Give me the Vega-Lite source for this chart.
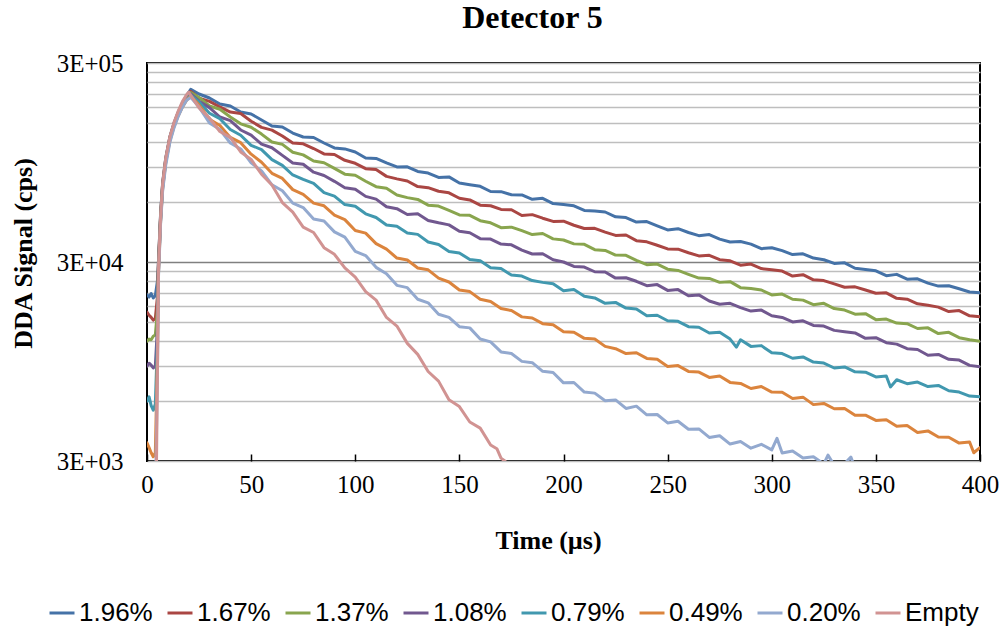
{
"$schema": "https://vega.github.io/schema/vega-lite/v6.json",
"width": 833, "height": 398,
"autosize": {"type": "none"},
"padding": {"left": 147, "top": 63, "right": 22, "bottom": 169},
"background": "white",
"title": {"text": "Detector 5", "font": "Liberation Serif", "fontSize": 32, "fontWeight": "bold", "color": "black", "anchor": "middle", "frame": "group", "dx": -31, "offset": 16},
"config": {"view": {"stroke": "black", "strokeWidth": 2}, "axis": {"domain": false}},
"data": {"values": [
{"s":"1.96%","t":0,"v":20500},{"s":"1.96%","t":1,"v":20000},{"s":"1.96%","t":2,"v":20800},{"s":"1.96%","t":3,"v":19800},{"s":"1.96%","t":4,"v":20300},{"s":"1.96%","t":5,"v":24000},{"s":"1.96%","t":5.5,"v":30000},{"s":"1.96%","t":6.5,"v":52000},{"s":"1.96%","t":7.5,"v":75000},{"s":"1.96%","t":9,"v":100000},{"s":"1.96%","t":11,"v":128000},{"s":"1.96%","t":13,"v":150000},{"s":"1.96%","t":15,"v":170000},{"s":"1.96%","t":17,"v":189000},{"s":"1.96%","t":19,"v":206000},{"s":"1.96%","t":21,"v":221000},
{"s":"1.96%","t":25,"v":209600},{"s":"1.96%","t":30,"v":200100},{"s":"1.96%","t":35,"v":186700},{"s":"1.96%","t":40,"v":182500},{"s":"1.96%","t":45,"v":170300},{"s":"1.96%","t":50,"v":166300},{"s":"1.96%","t":55,"v":155200},{"s":"1.96%","t":60,"v":144700},{"s":"1.96%","t":65,"v":143000},{"s":"1.96%","t":70,"v":133400},{"s":"1.96%","t":75,"v":127400},{"s":"1.96%","t":80,"v":126700},{"s":"1.96%","t":85,"v":118900},{"s":"1.96%","t":90,"v":112300},{"s":"1.96%","t":95,"v":111000},{"s":"1.96%","t":100,"v":107200},{"s":"1.96%","t":105,"v":100000},{"s":"1.96%","t":110,"v":99400},{"s":"1.96%","t":115,"v":94400},{"s":"1.96%","t":120,"v":90100},{"s":"1.96%","t":125,"v":90300},{"s":"1.96%","t":130,"v":85500},{"s":"1.96%","t":135,"v":84000},{"s":"1.96%","t":140,"v":79800},{"s":"1.96%","t":145,"v":80300},{"s":"1.96%","t":150,"v":74900},{"s":"1.96%","t":155,"v":73400},{"s":"1.96%","t":160,"v":72000},{"s":"1.96%","t":165,"v":67800},{"s":"1.96%","t":170,"v":67700},{"s":"1.96%","t":175,"v":65300},{"s":"1.96%","t":180,"v":65200},{"s":"1.96%","t":185,"v":62000},{"s":"1.96%","t":190,"v":62700},{"s":"1.96%","t":195,"v":59000},{"s":"1.96%","t":200,"v":58300},{"s":"1.96%","t":205,"v":57500},{"s":"1.96%","t":210,"v":54500},{"s":"1.96%","t":215,"v":54100},{"s":"1.96%","t":220,"v":53500},{"s":"1.96%","t":225,"v":50600},{"s":"1.96%","t":230,"v":50200},{"s":"1.96%","t":235,"v":47600},{"s":"1.96%","t":240,"v":47900},{"s":"1.96%","t":245,"v":45600},{"s":"1.96%","t":250,"v":43500},{"s":"1.96%","t":255,"v":44100},{"s":"1.96%","t":260,"v":42200},{"s":"1.96%","t":265,"v":40700},{"s":"1.96%","t":270,"v":41200},{"s":"1.96%","t":275,"v":39100},{"s":"1.96%","t":280,"v":37800},{"s":"1.96%","t":285,"v":38000},{"s":"1.96%","t":290,"v":36900},{"s":"1.96%","t":295,"v":35000},{"s":"1.96%","t":300,"v":35400},{"s":"1.96%","t":305,"v":34200},{"s":"1.96%","t":310,"v":32700},{"s":"1.96%","t":315,"v":33000},{"s":"1.96%","t":320,"v":31400},{"s":"1.96%","t":325,"v":30800},{"s":"1.96%","t":330,"v":29500},{"s":"1.96%","t":335,"v":29700},{"s":"1.96%","t":340,"v":27900},{"s":"1.96%","t":345,"v":27500},{"s":"1.96%","t":350,"v":27100},{"s":"1.96%","t":355,"v":25600},{"s":"1.96%","t":360,"v":26000},{"s":"1.96%","t":365,"v":24600},{"s":"1.96%","t":370,"v":24700},{"s":"1.96%","t":375,"v":23500},{"s":"1.96%","t":380,"v":22700},{"s":"1.96%","t":385,"v":22800},{"s":"1.96%","t":390,"v":22000},{"s":"1.96%","t":395,"v":21200},{"s":"1.96%","t":400,"v":21000},
{"s":"1.67%","t":0,"v":16800},{"s":"1.67%","t":1,"v":16200},{"s":"1.67%","t":2,"v":15800},{"s":"1.67%","t":3,"v":15300},{"s":"1.67%","t":4,"v":15600},{"s":"1.67%","t":5,"v":20000},{"s":"1.67%","t":5.5,"v":30000},{"s":"1.67%","t":6.5,"v":51000},{"s":"1.67%","t":7.5,"v":74000},{"s":"1.67%","t":9,"v":99000},{"s":"1.67%","t":11,"v":127000},{"s":"1.67%","t":13,"v":149000},{"s":"1.67%","t":15,"v":169000},{"s":"1.67%","t":17,"v":187000},{"s":"1.67%","t":19,"v":203000},{"s":"1.67%","t":21,"v":216000},
{"s":"1.67%","t":25,"v":199800},{"s":"1.67%","t":30,"v":192500},{"s":"1.67%","t":35,"v":180400},{"s":"1.67%","t":40,"v":170100},{"s":"1.67%","t":45,"v":167300},{"s":"1.67%","t":50,"v":153000},{"s":"1.67%","t":55,"v":142400},{"s":"1.67%","t":60,"v":138000},{"s":"1.67%","t":65,"v":129000},{"s":"1.67%","t":70,"v":118800},{"s":"1.67%","t":75,"v":117700},{"s":"1.67%","t":80,"v":111500},{"s":"1.67%","t":85,"v":104800},{"s":"1.67%","t":90,"v":104000},{"s":"1.67%","t":95,"v":97300},{"s":"1.67%","t":100,"v":94000},{"s":"1.67%","t":105,"v":88300},{"s":"1.67%","t":110,"v":87400},{"s":"1.67%","t":115,"v":80800},{"s":"1.67%","t":120,"v":78500},{"s":"1.67%","t":125,"v":76600},{"s":"1.67%","t":130,"v":71800},{"s":"1.67%","t":135,"v":70900},{"s":"1.67%","t":140,"v":68000},{"s":"1.67%","t":145,"v":66800},{"s":"1.67%","t":150,"v":62700},{"s":"1.67%","t":155,"v":61500},{"s":"1.67%","t":160,"v":57900},{"s":"1.67%","t":165,"v":57500},{"s":"1.67%","t":170,"v":55100},{"s":"1.67%","t":175,"v":54900},{"s":"1.67%","t":180,"v":51400},{"s":"1.67%","t":185,"v":51900},{"s":"1.67%","t":190,"v":49800},{"s":"1.67%","t":195,"v":48000},{"s":"1.67%","t":200,"v":48100},{"s":"1.67%","t":205,"v":45900},{"s":"1.67%","t":210,"v":44200},{"s":"1.67%","t":215,"v":44300},{"s":"1.67%","t":220,"v":42400},{"s":"1.67%","t":225,"v":40800},{"s":"1.67%","t":230,"v":41000},{"s":"1.67%","t":235,"v":38400},{"s":"1.67%","t":240,"v":37900},{"s":"1.67%","t":245,"v":36400},{"s":"1.67%","t":250,"v":34900},{"s":"1.67%","t":255,"v":34800},{"s":"1.67%","t":260,"v":33400},{"s":"1.67%","t":265,"v":32200},{"s":"1.67%","t":270,"v":32400},{"s":"1.67%","t":275,"v":30800},{"s":"1.67%","t":280,"v":30400},{"s":"1.67%","t":285,"v":28900},{"s":"1.67%","t":290,"v":29300},{"s":"1.67%","t":295,"v":27800},{"s":"1.67%","t":300,"v":27400},{"s":"1.67%","t":305,"v":27000},{"s":"1.67%","t":310,"v":25500},{"s":"1.67%","t":315,"v":25900},{"s":"1.67%","t":320,"v":24400},{"s":"1.67%","t":325,"v":24200},{"s":"1.67%","t":330,"v":23300},{"s":"1.67%","t":335,"v":22400},{"s":"1.67%","t":340,"v":22500},{"s":"1.67%","t":345,"v":21700},{"s":"1.67%","t":350,"v":20900},{"s":"1.67%","t":355,"v":21000},{"s":"1.67%","t":360,"v":19700},{"s":"1.67%","t":365,"v":19500},{"s":"1.67%","t":370,"v":18500},{"s":"1.67%","t":375,"v":18200},{"s":"1.67%","t":380,"v":17800},{"s":"1.67%","t":385,"v":16900},{"s":"1.67%","t":390,"v":17100},{"s":"1.67%","t":395,"v":16100},{"s":"1.67%","t":400,"v":15900},
{"s":"1.37%","t":0,"v":12000},{"s":"1.37%","t":1,"v":12300},{"s":"1.37%","t":2,"v":12200},{"s":"1.37%","t":3,"v":12700},{"s":"1.37%","t":4,"v":12900},{"s":"1.37%","t":5,"v":17000},{"s":"1.37%","t":5.5,"v":29000},{"s":"1.37%","t":6.5,"v":50000},{"s":"1.37%","t":7.5,"v":73000},{"s":"1.37%","t":9,"v":98000},{"s":"1.37%","t":11,"v":126000},{"s":"1.37%","t":13,"v":148000},{"s":"1.37%","t":15,"v":168000},{"s":"1.37%","t":17,"v":186000},{"s":"1.37%","t":19,"v":201000},{"s":"1.37%","t":21,"v":213000},
{"s":"1.37%","t":25,"v":201300},{"s":"1.37%","t":30,"v":182500},{"s":"1.37%","t":35,"v":175700},{"s":"1.37%","t":40,"v":160600},{"s":"1.37%","t":45,"v":148400},{"s":"1.37%","t":50,"v":142700},{"s":"1.37%","t":55,"v":131800},{"s":"1.37%","t":60,"v":120300},{"s":"1.37%","t":65,"v":117000},{"s":"1.37%","t":70,"v":106800},{"s":"1.37%","t":75,"v":103600},{"s":"1.37%","t":80,"v":96500},{"s":"1.37%","t":85,"v":94600},{"s":"1.37%","t":90,"v":88600},{"s":"1.37%","t":95,"v":82900},{"s":"1.37%","t":100,"v":81900},{"s":"1.37%","t":105,"v":76400},{"s":"1.37%","t":110,"v":71700},{"s":"1.37%","t":115,"v":70400},{"s":"1.37%","t":120,"v":65100},{"s":"1.37%","t":125,"v":63200},{"s":"1.37%","t":130,"v":61900},{"s":"1.37%","t":135,"v":57900},{"s":"1.37%","t":140,"v":57300},{"s":"1.37%","t":145,"v":54500},{"s":"1.37%","t":150,"v":51700},{"s":"1.37%","t":155,"v":51500},{"s":"1.37%","t":160,"v":48400},{"s":"1.37%","t":165,"v":47200},{"s":"1.37%","t":170,"v":44600},{"s":"1.37%","t":175,"v":44900},{"s":"1.37%","t":180,"v":43100},{"s":"1.37%","t":185,"v":41200},{"s":"1.37%","t":190,"v":41700},{"s":"1.37%","t":195,"v":39200},{"s":"1.37%","t":200,"v":38700},{"s":"1.37%","t":205,"v":37000},{"s":"1.37%","t":210,"v":36800},{"s":"1.37%","t":215,"v":34600},{"s":"1.37%","t":220,"v":34300},{"s":"1.37%","t":225,"v":32500},{"s":"1.37%","t":230,"v":32400},{"s":"1.37%","t":235,"v":30600},{"s":"1.37%","t":240,"v":29100},{"s":"1.37%","t":245,"v":29300},{"s":"1.37%","t":250,"v":27600},{"s":"1.37%","t":255,"v":27200},{"s":"1.37%","t":260,"v":26000},{"s":"1.37%","t":265,"v":24900},{"s":"1.37%","t":270,"v":24800},{"s":"1.37%","t":275,"v":23700},{"s":"1.37%","t":280,"v":23900},{"s":"1.37%","t":285,"v":22300},{"s":"1.37%","t":290,"v":22100},{"s":"1.37%","t":295,"v":21700},{"s":"1.37%","t":300,"v":20500},{"s":"1.37%","t":305,"v":20700},{"s":"1.37%","t":310,"v":19500},{"s":"1.37%","t":315,"v":19300},{"s":"1.37%","t":320,"v":18300},{"s":"1.37%","t":325,"v":18600},{"s":"1.37%","t":330,"v":17500},{"s":"1.37%","t":335,"v":17200},{"s":"1.37%","t":340,"v":16400},{"s":"1.37%","t":345,"v":16500},{"s":"1.37%","t":350,"v":15400},{"s":"1.37%","t":355,"v":15500},{"s":"1.37%","t":360,"v":14800},{"s":"1.37%","t":365,"v":14700},{"s":"1.37%","t":370,"v":13900},{"s":"1.37%","t":375,"v":14000},{"s":"1.37%","t":380,"v":13100},{"s":"1.37%","t":385,"v":13300},{"s":"1.37%","t":390,"v":12500},{"s":"1.37%","t":395,"v":12200},{"s":"1.37%","t":400,"v":12000},
{"s":"1.08%","t":0,"v":9000},{"s":"1.08%","t":1,"v":9300},{"s":"1.08%","t":2,"v":9100},{"s":"1.08%","t":3,"v":8800},{"s":"1.08%","t":4,"v":9000},{"s":"1.08%","t":5,"v":14000},{"s":"1.08%","t":5.5,"v":28000},{"s":"1.08%","t":6.5,"v":49000},{"s":"1.08%","t":7.5,"v":72000},{"s":"1.08%","t":9,"v":97000},{"s":"1.08%","t":11,"v":125000},{"s":"1.08%","t":13,"v":147000},{"s":"1.08%","t":15,"v":166000},{"s":"1.08%","t":17,"v":184000},{"s":"1.08%","t":19,"v":199000},{"s":"1.08%","t":21,"v":210000},
{"s":"1.08%","t":25,"v":192800},{"s":"1.08%","t":30,"v":179000},{"s":"1.08%","t":35,"v":160600},{"s":"1.08%","t":40,"v":153900},{"s":"1.08%","t":45,"v":138200},{"s":"1.08%","t":50,"v":130200},{"s":"1.08%","t":55,"v":117300},{"s":"1.08%","t":60,"v":112500},{"s":"1.08%","t":65,"v":103000},{"s":"1.08%","t":70,"v":94400},{"s":"1.08%","t":75,"v":93000},{"s":"1.08%","t":80,"v":84800},{"s":"1.08%","t":85,"v":81600},{"s":"1.08%","t":90,"v":76300},{"s":"1.08%","t":95,"v":70900},{"s":"1.08%","t":100,"v":69700},{"s":"1.08%","t":105,"v":64100},{"s":"1.08%","t":110,"v":62100},{"s":"1.08%","t":115,"v":56900},{"s":"1.08%","t":120,"v":55600},{"s":"1.08%","t":125,"v":52000},{"s":"1.08%","t":130,"v":52400},{"s":"1.08%","t":135,"v":48500},{"s":"1.08%","t":140,"v":47200},{"s":"1.08%","t":145,"v":46100},{"s":"1.08%","t":150,"v":42800},{"s":"1.08%","t":155,"v":42100},{"s":"1.08%","t":160,"v":39300},{"s":"1.08%","t":165,"v":39100},{"s":"1.08%","t":170,"v":36900},{"s":"1.08%","t":175,"v":36600},{"s":"1.08%","t":180,"v":34400},{"s":"1.08%","t":185,"v":32900},{"s":"1.08%","t":190,"v":33000},{"s":"1.08%","t":195,"v":30800},{"s":"1.08%","t":200,"v":30000},{"s":"1.08%","t":205,"v":28500},{"s":"1.08%","t":210,"v":28300},{"s":"1.08%","t":215,"v":26800},{"s":"1.08%","t":220,"v":26700},{"s":"1.08%","t":225,"v":24900},{"s":"1.08%","t":230,"v":25000},{"s":"1.08%","t":235,"v":24000},{"s":"1.08%","t":240,"v":22800},{"s":"1.08%","t":245,"v":23100},{"s":"1.08%","t":250,"v":21600},{"s":"1.08%","t":255,"v":21800},{"s":"1.08%","t":260,"v":20300},{"s":"1.08%","t":265,"v":20500},{"s":"1.08%","t":270,"v":19100},{"s":"1.08%","t":275,"v":18400},{"s":"1.08%","t":280,"v":18600},{"s":"1.08%","t":285,"v":17700},{"s":"1.08%","t":290,"v":17000},{"s":"1.08%","t":295,"v":17200},{"s":"1.08%","t":300,"v":16100},{"s":"1.08%","t":305,"v":15800},{"s":"1.08%","t":310,"v":15000},{"s":"1.08%","t":315,"v":15200},{"s":"1.08%","t":320,"v":14400},{"s":"1.08%","t":325,"v":14300},{"s":"1.08%","t":330,"v":13600},{"s":"1.08%","t":335,"v":13400},{"s":"1.08%","t":340,"v":13200},{"s":"1.08%","t":345,"v":12400},{"s":"1.08%","t":350,"v":12500},{"s":"1.08%","t":355,"v":11800},{"s":"1.08%","t":360,"v":11600},{"s":"1.08%","t":365,"v":11000},{"s":"1.08%","t":370,"v":10900},{"s":"1.08%","t":375,"v":10200},{"s":"1.08%","t":380,"v":10300},{"s":"1.08%","t":385,"v":9730},{"s":"1.08%","t":390,"v":9640},{"s":"1.08%","t":395,"v":9070},{"s":"1.08%","t":400,"v":8930},
{"s":"0.79%","t":0,"v":6000},{"s":"0.79%","t":1,"v":6300},{"s":"0.79%","t":2,"v":5700},{"s":"0.79%","t":3,"v":5400},{"s":"0.79%","t":4,"v":5800},{"s":"0.79%","t":5,"v":12000},{"s":"0.79%","t":5.5,"v":27000},{"s":"0.79%","t":6.5,"v":48000},{"s":"0.79%","t":7.5,"v":71000},{"s":"0.79%","t":9,"v":96000},{"s":"0.79%","t":11,"v":124000},{"s":"0.79%","t":13,"v":146000},{"s":"0.79%","t":15,"v":165000},{"s":"0.79%","t":17,"v":182000},{"s":"0.79%","t":19,"v":197000},{"s":"0.79%","t":21,"v":207000},
{"s":"0.79%","t":25,"v":191200},{"s":"0.79%","t":30,"v":167700},{"s":"0.79%","t":35,"v":157500},{"s":"0.79%","t":40,"v":139000},{"s":"0.79%","t":45,"v":130000},{"s":"0.79%","t":50,"v":115700},{"s":"0.79%","t":55,"v":110200},{"s":"0.79%","t":60,"v":98000},{"s":"0.79%","t":65,"v":91800},{"s":"0.79%","t":70,"v":82100},{"s":"0.79%","t":75,"v":78000},{"s":"0.79%","t":80,"v":74500},{"s":"0.79%","t":85,"v":66900},{"s":"0.79%","t":90,"v":64300},{"s":"0.79%","t":95,"v":58300},{"s":"0.79%","t":100,"v":57200},{"s":"0.79%","t":105,"v":52400},{"s":"0.79%","t":110,"v":50200},{"s":"0.79%","t":115,"v":46000},{"s":"0.79%","t":120,"v":45400},{"s":"0.79%","t":125,"v":42000},{"s":"0.79%","t":130,"v":41300},{"s":"0.79%","t":135,"v":37800},{"s":"0.79%","t":140,"v":36700},{"s":"0.79%","t":145,"v":33900},{"s":"0.79%","t":150,"v":33300},{"s":"0.79%","t":155,"v":30900},{"s":"0.79%","t":160,"v":30400},{"s":"0.79%","t":165,"v":28100},{"s":"0.79%","t":170,"v":27800},{"s":"0.79%","t":175,"v":25800},{"s":"0.79%","t":180,"v":25500},{"s":"0.79%","t":185,"v":24200},{"s":"0.79%","t":190,"v":23700},{"s":"0.79%","t":195,"v":23300},{"s":"0.79%","t":200,"v":21500},{"s":"0.79%","t":205,"v":21800},{"s":"0.79%","t":210,"v":20200},{"s":"0.79%","t":215,"v":19800},{"s":"0.79%","t":220,"v":18600},{"s":"0.79%","t":225,"v":18800},{"s":"0.79%","t":230,"v":17600},{"s":"0.79%","t":235,"v":17400},{"s":"0.79%","t":240,"v":16100},{"s":"0.79%","t":245,"v":16200},{"s":"0.79%","t":250,"v":15200},{"s":"0.79%","t":255,"v":15100},{"s":"0.79%","t":260,"v":14200},{"s":"0.79%","t":265,"v":14100},{"s":"0.79%","t":270,"v":13200},{"s":"0.79%","t":275,"v":13300},{"s":"0.79%","t":280,"v":12300},{"s":"0.79%","t":283,"v":11200},{"s":"0.79%","t":285,"v":12200},{"s":"0.79%","t":290,"v":11300},{"s":"0.79%","t":295,"v":11400},{"s":"0.79%","t":300,"v":10500},{"s":"0.79%","t":305,"v":10400},{"s":"0.79%","t":310,"v":9850},{"s":"0.79%","t":315,"v":10000},{"s":"0.79%","t":320,"v":9420},{"s":"0.79%","t":325,"v":9320},{"s":"0.79%","t":330,"v":8800},{"s":"0.79%","t":335,"v":8910},{"s":"0.79%","t":340,"v":8420},{"s":"0.79%","t":345,"v":8380},{"s":"0.79%","t":350,"v":7940},{"s":"0.79%","t":355,"v":8020},{"s":"0.79%","t":357,"v":7070},{"s":"0.79%","t":360,"v":7680},{"s":"0.79%","t":365,"v":7340},{"s":"0.79%","t":370,"v":7480},{"s":"0.79%","t":375,"v":7100},{"s":"0.79%","t":380,"v":7190},{"s":"0.79%","t":385,"v":6760},{"s":"0.79%","t":390,"v":6660},{"s":"0.79%","t":395,"v":6360},{"s":"0.79%","t":400,"v":6300},
{"s":"0.49%","t":0,"v":3700},{"s":"0.49%","t":1,"v":3500},{"s":"0.49%","t":2,"v":3300},{"s":"0.49%","t":3,"v":3150},{"s":"0.49%","t":4,"v":3300},{"s":"0.49%","t":5,"v":10000},{"s":"0.49%","t":5.5,"v":26000},{"s":"0.49%","t":6.5,"v":47000},{"s":"0.49%","t":7.5,"v":70000},{"s":"0.49%","t":9,"v":95000},{"s":"0.49%","t":11,"v":122000},{"s":"0.49%","t":13,"v":144000},{"s":"0.49%","t":15,"v":163000},{"s":"0.49%","t":17,"v":180000},{"s":"0.49%","t":19,"v":195000},{"s":"0.49%","t":21,"v":205000},
{"s":"0.49%","t":25,"v":184400},{"s":"0.49%","t":30,"v":156600},{"s":"0.49%","t":35,"v":145600},{"s":"0.49%","t":40,"v":126800},{"s":"0.49%","t":45,"v":119300},{"s":"0.49%","t":50,"v":104500},{"s":"0.49%","t":55,"v":95100},{"s":"0.49%","t":60,"v":83700},{"s":"0.49%","t":65,"v":78900},{"s":"0.49%","t":70,"v":69300},{"s":"0.49%","t":75,"v":65600},{"s":"0.49%","t":80,"v":59300},{"s":"0.49%","t":85,"v":57500},{"s":"0.49%","t":90,"v":51600},{"s":"0.49%","t":95,"v":49000},{"s":"0.49%","t":100,"v":43200},{"s":"0.49%","t":105,"v":41900},{"s":"0.49%","t":110,"v":37100},{"s":"0.49%","t":115,"v":34800},{"s":"0.49%","t":120,"v":31400},{"s":"0.49%","t":125,"v":30700},{"s":"0.49%","t":130,"v":28000},{"s":"0.49%","t":135,"v":27400},{"s":"0.49%","t":140,"v":24900},{"s":"0.49%","t":145,"v":23800},{"s":"0.49%","t":150,"v":21700},{"s":"0.49%","t":155,"v":21300},{"s":"0.49%","t":160,"v":19500},{"s":"0.49%","t":165,"v":19000},{"s":"0.49%","t":170,"v":17500},{"s":"0.49%","t":175,"v":17100},{"s":"0.49%","t":180,"v":15900},{"s":"0.49%","t":185,"v":15700},{"s":"0.49%","t":190,"v":14700},{"s":"0.49%","t":195,"v":14500},{"s":"0.49%","t":200,"v":13400},{"s":"0.49%","t":205,"v":13300},{"s":"0.49%","t":210,"v":12400},{"s":"0.49%","t":215,"v":12300},{"s":"0.49%","t":220,"v":11300},{"s":"0.49%","t":225,"v":11000},{"s":"0.49%","t":230,"v":10400},{"s":"0.49%","t":235,"v":10500},{"s":"0.49%","t":240,"v":9830},{"s":"0.49%","t":245,"v":9730},{"s":"0.49%","t":250,"v":8960},{"s":"0.49%","t":255,"v":9050},{"s":"0.49%","t":260,"v":8460},{"s":"0.49%","t":265,"v":8390},{"s":"0.49%","t":270,"v":7890},{"s":"0.49%","t":275,"v":8020},{"s":"0.49%","t":280,"v":7450},{"s":"0.49%","t":285,"v":7360},{"s":"0.49%","t":290,"v":6940},{"s":"0.49%","t":295,"v":7100},{"s":"0.49%","t":300,"v":6660},{"s":"0.49%","t":305,"v":6640},{"s":"0.49%","t":310,"v":6180},{"s":"0.49%","t":315,"v":6280},{"s":"0.49%","t":320,"v":5760},{"s":"0.49%","t":325,"v":5840},{"s":"0.49%","t":330,"v":5490},{"s":"0.49%","t":335,"v":5510},{"s":"0.49%","t":340,"v":5090},{"s":"0.49%","t":345,"v":5100},{"s":"0.49%","t":350,"v":4800},{"s":"0.49%","t":355,"v":4840},{"s":"0.49%","t":360,"v":4480},{"s":"0.49%","t":365,"v":4520},{"s":"0.49%","t":370,"v":4170},{"s":"0.49%","t":375,"v":4250},{"s":"0.49%","t":380,"v":3960},{"s":"0.49%","t":385,"v":3950},{"s":"0.49%","t":390,"v":3690},{"s":"0.49%","t":395,"v":3740},{"s":"0.49%","t":397,"v":3300},{"s":"0.49%","t":400,"v":3500},
{"s":"0.20%","t":0,"v":2000},{"s":"0.20%","t":1,"v":2100},{"s":"0.20%","t":2,"v":1900},{"s":"0.20%","t":3,"v":2000},{"s":"0.20%","t":4,"v":1900},{"s":"0.20%","t":5,"v":8000},{"s":"0.20%","t":5.5,"v":25000},{"s":"0.20%","t":6.5,"v":46000},{"s":"0.20%","t":7.5,"v":68000},{"s":"0.20%","t":9,"v":92000},{"s":"0.20%","t":11,"v":120000},{"s":"0.20%","t":13,"v":142000},{"s":"0.20%","t":15,"v":162000},{"s":"0.20%","t":17,"v":180000},{"s":"0.20%","t":19,"v":195000},{"s":"0.20%","t":21,"v":202000},
{"s":"0.20%","t":25,"v":180000},{"s":"0.20%","t":30,"v":149800},{"s":"0.20%","t":35,"v":139000},{"s":"0.20%","t":40,"v":118900},{"s":"0.20%","t":45,"v":111000},{"s":"0.20%","t":50,"v":94400},{"s":"0.20%","t":55,"v":86100},{"s":"0.20%","t":60,"v":73300},{"s":"0.20%","t":65,"v":68400},{"s":"0.20%","t":70,"v":59300},{"s":"0.20%","t":75,"v":56300},{"s":"0.20%","t":80,"v":49300},{"s":"0.20%","t":85,"v":48200},{"s":"0.20%","t":90,"v":42500},{"s":"0.20%","t":95,"v":40000},{"s":"0.20%","t":100,"v":33900},{"s":"0.20%","t":105,"v":32300},{"s":"0.20%","t":110,"v":28200},{"s":"0.20%","t":115,"v":26200},{"s":"0.20%","t":120,"v":22900},{"s":"0.20%","t":125,"v":22300},{"s":"0.20%","t":130,"v":19500},{"s":"0.20%","t":135,"v":18700},{"s":"0.20%","t":140,"v":16400},{"s":"0.20%","t":145,"v":15800},{"s":"0.20%","t":150,"v":14200},{"s":"0.20%","t":155,"v":14000},{"s":"0.20%","t":160,"v":12300},{"s":"0.20%","t":165,"v":11900},{"s":"0.20%","t":170,"v":10600},{"s":"0.20%","t":175,"v":10400},{"s":"0.20%","t":180,"v":9500},{"s":"0.20%","t":185,"v":9360},{"s":"0.20%","t":190,"v":8470},{"s":"0.20%","t":195,"v":8350},{"s":"0.20%","t":200,"v":7410},{"s":"0.20%","t":205,"v":7440},{"s":"0.20%","t":210,"v":6660},{"s":"0.20%","t":215,"v":6580},{"s":"0.20%","t":220,"v":6020},{"s":"0.20%","t":225,"v":6080},{"s":"0.20%","t":230,"v":5510},{"s":"0.20%","t":235,"v":5660},{"s":"0.20%","t":240,"v":5120},{"s":"0.20%","t":245,"v":5140},{"s":"0.20%","t":250,"v":4660},{"s":"0.20%","t":255,"v":4750},{"s":"0.20%","t":260,"v":4330},{"s":"0.20%","t":265,"v":4350},{"s":"0.20%","t":270,"v":3940},{"s":"0.20%","t":275,"v":4020},{"s":"0.20%","t":280,"v":3650},{"s":"0.20%","t":285,"v":3760},{"s":"0.20%","t":290,"v":3480},{"s":"0.20%","t":295,"v":3640},{"s":"0.20%","t":300,"v":3410},{"s":"0.20%","t":302.5,"v":3900},{"s":"0.20%","t":305,"v":3290},{"s":"0.20%","t":310,"v":3370},{"s":"0.20%","t":315,"v":3110},{"s":"0.20%","t":320,"v":3150},{"s":"0.20%","t":325,"v":2900},{"s":"0.20%","t":327,"v":3210},{"s":"0.20%","t":330,"v":2860},{"s":"0.20%","t":335,"v":2910},{"s":"0.20%","t":338,"v":3140},{"s":"0.20%","t":340,"v":2760},{"s":"0.20%","t":350,"v":2690},{"s":"0.20%","t":360,"v":2560},{"s":"0.20%","t":370,"v":2410},{"s":"0.20%","t":380,"v":2280},{"s":"0.20%","t":390,"v":2150},{"s":"0.20%","t":400,"v":2030},
{"s":"Empty","t":0,"v":800},{"s":"Empty","t":4,"v":800},{"s":"Empty","t":5,"v":8000},{"s":"Empty","t":5.5,"v":27000},{"s":"Empty","t":6.5,"v":50000},{"s":"Empty","t":7.5,"v":74000},{"s":"Empty","t":9,"v":100000},{"s":"Empty","t":11,"v":128000},{"s":"Empty","t":13,"v":151000},{"s":"Empty","t":15,"v":172000},{"s":"Empty","t":17,"v":192000},{"s":"Empty","t":19,"v":208000},{"s":"Empty","t":20,"v":214000},
{"s":"Empty","t":25,"v":178600},{"s":"Empty","t":30,"v":158500},{"s":"Empty","t":35,"v":135800},{"s":"Empty","t":40,"v":126800},{"s":"Empty","t":45,"v":107200},{"s":"Empty","t":50,"v":98300},{"s":"Empty","t":55,"v":82800},{"s":"Empty","t":60,"v":73100},{"s":"Empty","t":65,"v":59700},{"s":"Empty","t":70,"v":53400},{"s":"Empty","t":75,"v":44900},{"s":"Empty","t":80,"v":42200},{"s":"Empty","t":85,"v":35400},{"s":"Empty","t":90,"v":32800},{"s":"Empty","t":95,"v":28000},{"s":"Empty","t":100,"v":25200},{"s":"Empty","t":105,"v":21300},{"s":"Empty","t":110,"v":19300},{"s":"Empty","t":115,"v":15800},{"s":"Empty","t":120,"v":14300},{"s":"Empty","t":125,"v":11700},{"s":"Empty","t":130,"v":10300},{"s":"Empty","t":135,"v":8450},{"s":"Empty","t":140,"v":7560},{"s":"Empty","t":145,"v":6090},{"s":"Empty","t":150,"v":5630},{"s":"Empty","t":155,"v":4710},{"s":"Empty","t":160,"v":4390},{"s":"Empty","t":165,"v":3610},{"s":"Empty","t":168,"v":3460},{"s":"Empty","t":170,"v":3100},{"s":"Empty","t":172,"v":2990},{"s":"Empty","t":175,"v":2660},{"s":"Empty","t":180,"v":2270},{"s":"Empty","t":190,"v":1910}
]},
"mark": {"type": "line", "clip": true, "strokeWidth": 3, "strokeJoin": "round", "strokeCap": "round"},
"encoding": {
"x": {"field": "t", "type": "quantitative", "scale": {"domain": [0, 400], "nice": false},
 "axis": {"values": [0,50,100,150,200,250,300,350,400], "grid": false, "ticks": true, "tickSize": -7, "tickColor": "black", "tickWidth": 1.5, "labelFont": "Liberation Serif", "labelFontSize": 25, "labelColor": "black", "labelPadding": 18, "labelFlush": false,
  "title": "Time (µs)", "titleFont": "Liberation Serif", "titleFontSize": 26, "titleFontWeight": "bold", "titleColor": "black", "titleX": 401, "titleY": 87, "titleAlign": "center", "titleBaseline": "alphabetic"}},
"y": {"field": "v", "type": "quantitative", "scale": {"type": "log", "domain": [3000, 300000], "nice": false},
 "axis": {"values": [3000,6000,9000,12000,15000,18000,21000,24000,27000,30000,60000,90000,120000,150000,180000,210000,240000,270000,300000],
  "labelExpr": "datum.value == 3000 ? '3E+03' : datum.value == 30000 ? '3E+04' : datum.value == 300000 ? '3E+05' : ''",
  "grid": true, "gridColor": {"condition": {"test": "datum.value == 30000", "value": "#808080"}, "value": "#bebebe"}, "gridWidth": 1.5,
  "ticks": false, "labelFont": "Liberation Serif", "labelFontSize": 25, "labelColor": "black", "labelPadding": 24, "labelFlush": false,
  "title": "DDA Signal (cps)", "titleFont": "Liberation Serif", "titleFontSize": 26, "titleFontWeight": "bold", "titleColor": "black", "titleAngle": -90, "titleX": -116, "titleY": 190, "titleAlign": "center", "titleBaseline": "alphabetic"}},
"color": {"field": "s", "type": "nominal",
 "scale": {"domain": ["1.96%","1.67%","1.37%","1.08%","0.79%","0.49%","0.20%","Empty"], "range": ["#4572A7","#AA4643","#89A54E","#71588F","#4198AF","#DB843D","#93A9CF","#D19392"]},
 "legend": {"orient": "none", "legendX": -99, "legendY": 536, "direction": "horizontal", "columns": 8, "title": null, "symbolType": "stroke", "symbolSize": 625, "symbolStrokeWidth": 3, "labelFont": "Liberation Sans", "labelFontSize": 26, "labelColor": "black", "labelOffset": 3, "columnPadding": 8, "padding": 0}}
}
}
